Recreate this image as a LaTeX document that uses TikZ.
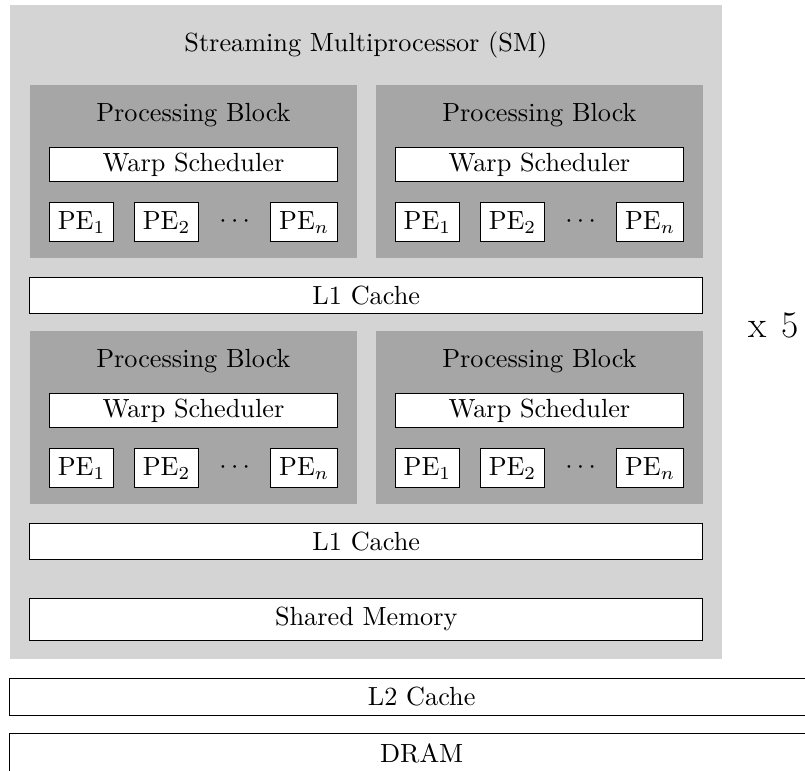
\RequirePackage{fix-cm}
\documentclass[tikz,border=0pt]{standalone}
\usetikzlibrary{positioning, calc}

\begin{document}
\begin{tikzpicture}[
  font = \fontsize{10.5}{12.6}\selectfont,
  smbox/.style = {
    fill = black!17,
    minimum width = 10.01cm,
    minimum height = 9.2cm,
    inner sep = 0pt,
  },
  block/.style = {
    fill = black!35,
    minimum width = 4.6cm,
    minimum height = 2.43cm,
    inner sep = 0pt,
  },
  unit/.style = {
    draw = black,
    fill = white,
  },
  warp/.style = {
    unit,
    minimum width = 4.05cm,
    minimum height = 0.48cm,
    inner ysep = 2pt,
  },
  wide/.style = {
    unit,
    minimum width = 9.46cm,
    minimum height = 0.51cm,
  },
  long/.style = {
    unit,
    minimum width = 11.6cm,
    minimum height = 0.51cm,
  }
]
  \useasboundingbox (0, 0) rectangle (11.32, -10.83);
  \clip (0, 0) rectangle (11.32, -10.83);

  \draw node[smbox] (SM) at (5.145, -4.67) {};
  \draw node (SMt) at ([yshift = -0.57cm] SM.north) {Streaming Multiprocessor (SM)};

  % processing blocks
  \draw node[block] (B1) at (2.72, -2.415) {};
  \draw node[block] (B2) at (7.585, -2.415) {};
  \draw node[block] (B3) at (2.72, -5.875) {};
  \draw node[block] (B4) at (7.585, -5.875) {};

  \draw node (T1) at ([yshift = -0.42cm] B1.north) {Processing Block};
  \draw node[warp] (W1) at ([yshift = -1.125cm] B1.north) {Warp Scheduler};
  \draw node[unit, anchor = north west] (P11) at ([yshift = -0.28cm] W1.south west) {PE$_1$};
  \draw node[unit, right = 0.28cm of P11] (P12) {PE$_2$};
  \draw node[unit, anchor = north east] (P1n) at ([yshift = -0.28cm] W1.south east) {PE$_n$};
  \draw node (D1) at ($(P12.east)!0.5!(P1n.west)$) {$\cdots$};

  \draw node (T2) at ([yshift = -0.42cm] B2.north) {Processing Block};
  \draw node[warp] (W2) at ([yshift = -1.125cm] B2.north) {Warp Scheduler};
  \draw node[unit, anchor = north west] (P21) at ([yshift = -0.28cm] W2.south west) {PE$_1$};
  \draw node[unit, right = 0.28cm of P21] (P22) {PE$_2$};
  \draw node[unit, anchor = north east] (P2n) at ([yshift = -0.28cm] W2.south east) {PE$_n$};
  \draw node (D2) at ($(P22.east)!0.5!(P2n.west)$) {$\cdots$};

  \draw node (T3) at ([yshift = -0.42cm] B3.north) {Processing Block};
  \draw node[warp] (W3) at ([yshift = -1.125cm] B3.north) {Warp Scheduler};
  \draw node[unit, anchor = north west] (P31) at ([yshift = -0.28cm] W3.south west) {PE$_1$};
  \draw node[unit, right = 0.28cm of P31] (P32) {PE$_2$};
  \draw node[unit, anchor = north east] (P3n) at ([yshift = -0.28cm] W3.south east) {PE$_n$};
  \draw node (D3) at ($(P32.east)!0.5!(P3n.west)$) {$\cdots$};

  \draw node (T4) at ([yshift = -0.42cm] B4.north) {Processing Block};
  \draw node[warp] (W4) at ([yshift = -1.125cm] B4.north) {Warp Scheduler};
  \draw node[unit, anchor = north west] (P41) at ([yshift = -0.28cm] W4.south west) {PE$_1$};
  \draw node[unit, right = 0.28cm of P41] (P42) {PE$_2$};
  \draw node[unit, anchor = north east] (P4n) at ([yshift = -0.28cm] W4.south east) {PE$_n$};
  \draw node (D4) at ($(P42.east)!0.5!(P4n.west)$) {$\cdots$};

  % caches and memory
  \draw node[wide] (L1a) at (5.15, -4.16) {L1 Cache};
  \draw node[wide] (L1b) at (5.15, -7.61) {L1 Cache};
  \draw node[wide, minimum height = 0.58cm] (SMem) at (5.15, -8.71) {Shared Memory};

  \draw node[long] (L2) at (5.93, -9.80) {L2 Cache};
  \draw node[long, minimum height = 0.56cm] (DRAM) at (5.93, -10.60) {DRAM};

  \draw node[font = \fontsize{15}{18}\selectfont] (N) at (10.88, -4.58) {x\hspace{0.4em}5};
\end{tikzpicture}
\end{document}
